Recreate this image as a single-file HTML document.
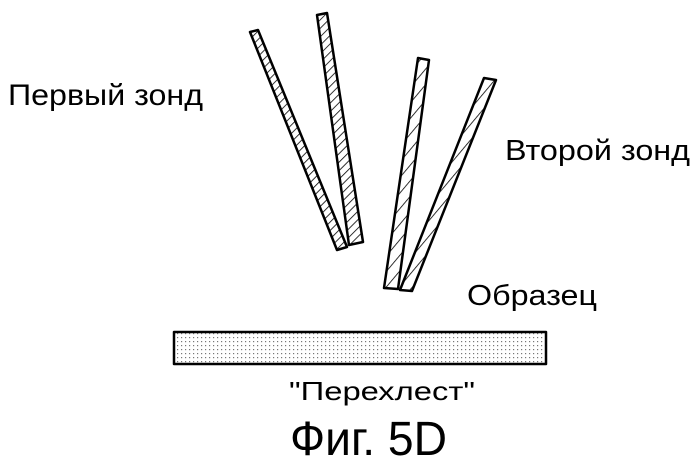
<!DOCTYPE html>
<html><head><meta charset="utf-8"><style>html,body{margin:0;padding:0;background:#fff}svg{display:block}</style></head><body>
<svg width="700" height="474" viewBox="0 0 700 474" xmlns="http://www.w3.org/2000/svg">
<defs>
<pattern id="h" width="6" height="6" patternUnits="userSpaceOnUse" patternTransform="rotate(45)"><line x1="0" y1="0" x2="0" y2="6" stroke="#000" stroke-width="1.6"/></pattern>
<pattern id="h2" width="10" height="10" patternUnits="userSpaceOnUse" patternTransform="rotate(40)"><line x1="0" y1="0" x2="0" y2="10" stroke="#000" stroke-width="1.6"/></pattern>
<pattern id="d" width="4" height="4" patternUnits="userSpaceOnUse"><rect width="4" height="4" fill="#fff"/><rect x="1" y="1" width="1.2" height="1.2" fill="#777"/></pattern>
</defs>
<g stroke="#000" stroke-width="2.5" stroke-linejoin="round">
<polygon points="250,32 258,30 347,247 337,250" fill="url(#h)"/>
<polygon points="317,15 327,13 363,242 349,245" fill="url(#h)"/>
<polygon points="418,58 429,60 398,289 384,288" fill="url(#h2)"/>
<polygon points="484,78 496,80 412,291 400,290" fill="url(#h2)"/>
<rect x="174" y="332" width="372" height="32" fill="url(#d)" stroke-width="2.5"/>
</g>
<g font-family="Liberation Sans, sans-serif" fill="#000">
<text x="8" y="105" font-size="30" textLength="195" lengthAdjust="spacingAndGlyphs">Первый зонд</text>
<text x="505" y="160" font-size="29" textLength="185" lengthAdjust="spacingAndGlyphs">Второй зонд</text>
<text x="467" y="305" font-size="29" textLength="130" lengthAdjust="spacingAndGlyphs">Образец</text>
<text x="289" y="400" font-size="26" textLength="186" lengthAdjust="spacingAndGlyphs">"Перехлест"</text>
<text x="290" y="455" font-size="48" textLength="157" lengthAdjust="spacingAndGlyphs">Фиг. 5D</text>
</g>
</svg>
</body></html>
